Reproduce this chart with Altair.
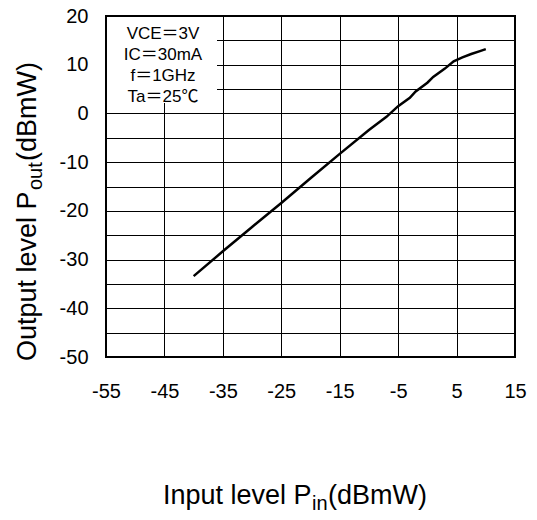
import altair as alt
import pandas as pd

# ---- data ----
pin = [-40, -35, -30, -25, -20, -15, -10, -7, -5, -3, -2, 0, 1, 3, 4.5, 6, 7.5, 9, 10]
pout = [-33.4, -28.3, -23.3, -18.4, -13.3, -8.3, -3.4, -0.7, 1.5, 3.2, 4.5, 6.3, 7.5, 9.2, 10.7, 11.5, 12.2, 12.8, 13.2]
x_ticks = [-55, -45, -35, -25, -15, -5, 5, 15]
y_ticks = [-50, -45, -40, -35, -30, -25, -20, -15, -10, -5, 0, 5, 10, 15, 20]
conditions = ["VCE＝3V", "IC＝30mA", "f＝1GHz", "Ta＝25℃"]

W, H = 409, 341
FONT = "Liberation Sans, Arial, Noto Sans CJK JP, sans-serif"

df = pd.DataFrame({"pin": pin, "pout": pout})

xscale = alt.Scale(domain=[-55, 15], nice=False, zero=False)
yscale = alt.Scale(domain=[-50, 20], nice=False, zero=False)

line = alt.Chart(df).mark_line(color="black", strokeWidth=2.5).encode(
    x=alt.X("pin:Q", scale=xscale,
            axis=alt.Axis(values=x_ticks, title=None, grid=True, gridColor="black",
                          gridWidth=1, gridOpacity=1, ticks=False, domain=False,
                          labelExpr="'' + datum.value",
                          labelFont=FONT, labelFontSize=20, labelColor="black",
                          labelPadding=24, labelFlush=False)),
    y=alt.Y("pout:Q", scale=yscale,
            axis=alt.Axis(values=y_ticks, title=None, grid=True, gridColor="black",
                          gridWidth=1, gridOpacity=1, ticks=False, domain=False,
                          labelExpr="datum.value % 10 == 0 ? '' + datum.value : ''",
                          labelFont=FONT, labelFontSize=20, labelColor="black",
                          labelPadding=18, labelFlush=False)),
)

one = pd.DataFrame({"a": [0]})

box = alt.Chart(one).mark_rect(fill="white", strokeWidth=0).encode(
    x=alt.value(1), x2=alt.value(111), y=alt.value(1), y2=alt.value(87)
)

layers = [line, box]
for i, c in enumerate(conditions):
    layers.append(
        alt.Chart(pd.DataFrame({"t": [c]})).mark_text(
            font=FONT, fontSize=17, color="black", align="center", baseline="middle"
        ).encode(text="t:N", x=alt.value(57), y=alt.value(18 + 21 * i))
    )

def txt(s, x, y, size, align="left", angle=0):
    return alt.Chart(pd.DataFrame({"t": [s]})).mark_text(
        font=FONT, fontSize=size, color="black", align=align,
        baseline="alphabetic", angle=angle
    ).encode(text="t:N", x=alt.value(x), y=alt.value(y))

# x axis title "Input level P_in(dBmW)"
xs = 57
layers += [
    txt("Input level P", xs, 488, 27),
    txt("in", xs + 149, 494, 20),
    txt("(dBmW)", xs + 149 + 16, 488, 27),
]
# y axis title "Output level P_out(dBmW)" (rotated)
ys = 345
layers += [
    txt("Output level P", -70, ys, 27, angle=270),
    txt("out", -64, ys - 171, 20, angle=270),
    txt("(dBmW)", -70, ys - 171 - 29, 27, angle=270),
]

chart = alt.layer(*layers).properties(
    width=W, height=H,
    autosize=alt.AutoSizeParams(type="none"),
    padding={"left": 98, "top": 8, "right": 12, "bottom": 154},
).configure_view(stroke="black", strokeWidth=2)

chart.save("out.html", embed_options={"renderer": "svg", "actions": False})
